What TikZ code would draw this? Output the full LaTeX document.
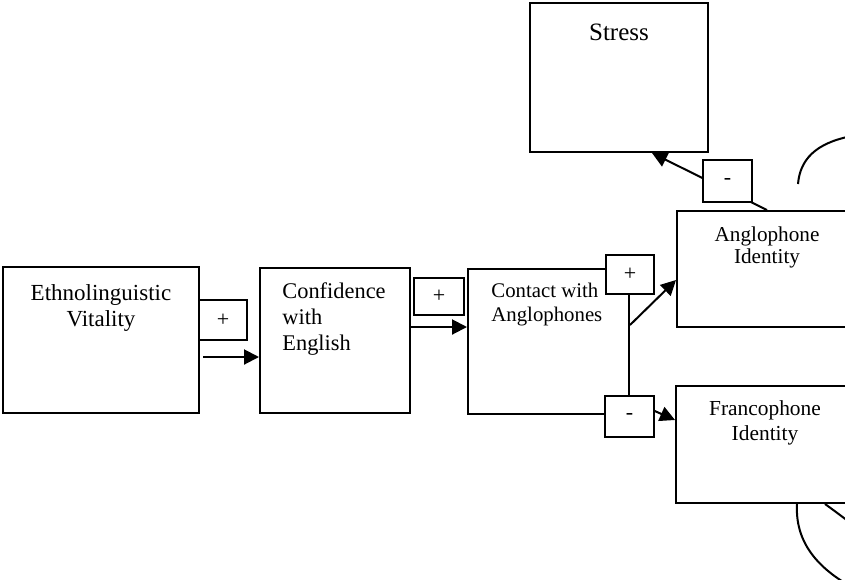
\documentclass[tikz,border=0pt]{standalone}
\usepackage{fontspec}
\setmainfont{Liberation Serif}
\usetikzlibrary{arrows.meta,calc,positioning}

\tikzset{
  factor/.style={draw, line width=1pt, rectangle, inner sep=0pt},
  sign/.style={draw, fill=white, line width=1pt, rectangle, inner sep=0pt, font=\fontsize{11}{13}\selectfont},
  caption/.style={inner sep=0pt, anchor=north, align=center},
  leftcaption/.style={inner sep=0pt, anchor=north west, align=left},
  link/.style={line width=1pt, -{Triangle[length=7.5pt,width=7.5pt]}},
}

\begin{document}
\begin{tikzpicture}[x=0.5pt,y=-0.5pt]
                    \clip (0,0) rectangle (845,579);
                    \node [factor, minimum width=98pt, minimum height=73pt] (ev) at (101,340) {};
                    \node [factor, minimum width=75pt, minimum height=72.5pt] (ce) at (335,340.5) {};
                    \node [factor, minimum width=80.5pt, minimum height=72.5pt] (ca) at (548.5,341.5) {};
                    \node [factor, minimum width=90pt, minimum height=58pt] (ai) at (767,269) {};
                    \node [factor, minimum width=89pt, minimum height=58.5pt] (fi) at (765,444.5) {};
                    \node [factor, minimum width=89pt, minimum height=74.5pt] (stress) at (619,77.5) {};
                    \node [caption, font=\fontsize{11.5}{13}\selectfont] (evtext) at ($(ev.north)+(0,18)$) {Ethnolinguistic\\Vitality};
                    \node [leftcaption, font=\fontsize{11.2}{13}\selectfont] (cetext) at ($(ce.north west)+(23,15)$) {Confidence\\with\\English};
                    \node [leftcaption, font=\fontsize{10.4}{12}\selectfont] (catext) at ($(ca.north west)+(24,15)$) {Contact with\\Anglophones};
                    \node [caption, font=\fontsize{10.6}{11}\selectfont] (aitext) at ($(ai.north)+(0,16)$) {Anglophone\\Identity};
                    \node [caption, font=\fontsize{10.7}{12.5}\selectfont] (fitext) at ($(fi.north)+(0,15)$) {Francophone\\Identity};
                    \node [caption, font=\fontsize{12.5}{14}\selectfont] (stresstext) at ($(stress.north)+(0,22)$) {Stress};
                    \draw [link] ($(ev.east)+(3,17)$) -- ($(ce.west)+(0,16.5)$);
                    \draw [link] ($(ce.east)+(0,-13.5)$) -- ($(ca.west)+(0,-14.5)$);
                    \draw [link] ($(ca.east)+(0,-16.5)$) -- ($(ai.west)+(0,11)$);
                    \draw [link] ($(ca.south east)+(0,-15)$) -- ($(fi.west)+(0,-24.5)$);
                    \draw [link] (ai.north) -- ($(stress.south)+(33,0)$);
                    \node [sign, minimum width=24pt, minimum height=20pt] (evplus) at (223,320) {+};
                    \node [sign, minimum width=25pt, minimum height=18.5pt] (ceplus) at (439,296.5) {+};
                    \node [sign, minimum width=24pt, minimum height=19.5pt] (caplus) at (630,274.5) {+};
                    \node [sign, minimum width=24.5pt, minimum height=20.5pt] (caminus) at (629.5,416.5) {-};
                    \node [sign, minimum width=24.5pt, minimum height=21pt] (aiminus) at (727.5,181) {-};
                    \coordinate (offtop) at (852,136);
                    \coordinate (offbottom) at (850,586);
                    \coordinate (offright) at (852,524);
                    \draw [line width=1pt] ($(ai.north)+(31,-26)$) .. controls (800,160) and (815,143) .. (offtop);
                    \draw [line width=1pt] ($(fi.south)+(32,0)$) .. controls (795,540) and (815,566) .. (offbottom);
                    \draw [line width=1pt] ($(fi.south)+(60,0)$) .. controls (832,509) and (840,515) .. (offright);
                \end{tikzpicture}
\end{document}
